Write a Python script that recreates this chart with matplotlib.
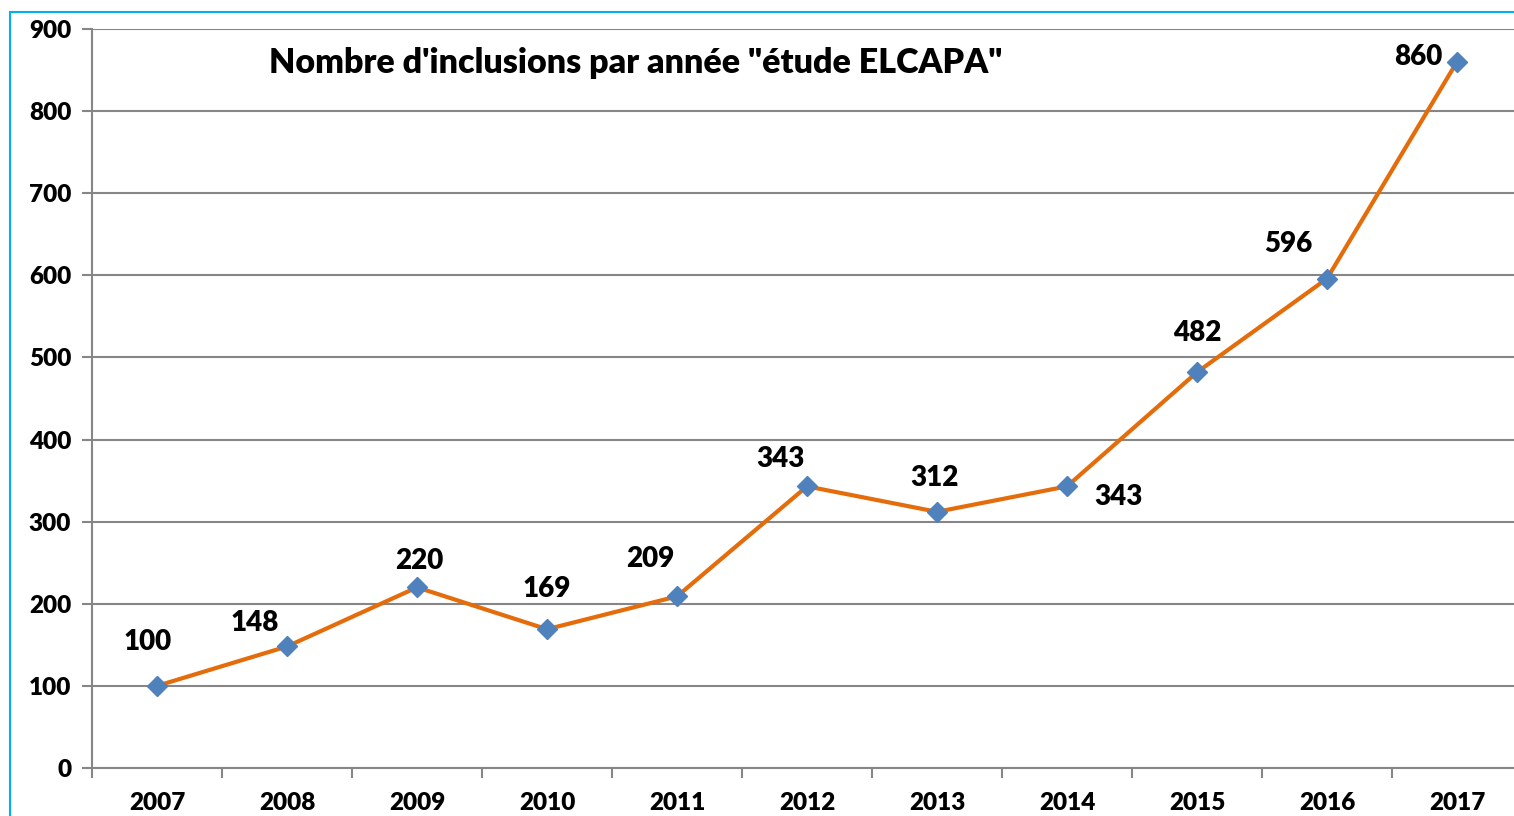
import matplotlib.pyplot as plt
from matplotlib.patches import Rectangle

# Données
annees = ['2007', '2008', '2009', '2010', '2011', '2012', '2013', '2014', '2015', '2016', '2017']
inclusions = [100, 148, 220, 169, 209, 343, 312, 343, 482, 596, 860]
# décalage des étiquettes (pixels)
decalages = [(-9, 44), (-32, 23), (2, 26), (0, 40), (-27, 37), (-27, 27),
             (-3, 34), (51, -11), (0, 39), (-39, 35), (-39, 5)]
graduations_y = [0, 100, 200, 300, 400, 500, 600, 700, 800, 900]

plt.rcParams['font.family'] = ['Lato', 'DejaVu Sans']
poids = 'heavy'

fig = plt.figure(figsize=(15.14, 8.16), dpi=100)
ax = fig.add_axes([92 / 1514, 48 / 816, (1522 - 92) / 1514, (768 - 29) / 816])

gris = '#868686'
x = list(range(len(annees)))
ax.plot(x, inclusions, color='#E46C0A', linewidth=3, marker='D', markersize=10,
        markerfacecolor='#4F81BD', markeredgecolor='#4F81BD', zorder=3, clip_on=False)

for i, v in enumerate(inclusions):
    ax.annotate(str(v), (i, v), xytext=decalages[i], textcoords='offset pixels',
                ha='center', va='center', fontsize=20, fontweight=poids)

ax.set_xlim(-0.5, len(annees) - 0.5)
ax.set_ylim(0, 900)
ax.set_yticks(graduations_y)
ax.set_yticklabels([str(g) for g in graduations_y], fontsize=17.5, fontweight=poids)
ax.yaxis.grid(True, color=gris, linewidth=1.5)
ax.set_axisbelow(True)

ax.set_xticks([i + 0.5 for i in range(-1, len(annees))], minor=False)
ax.set_xticklabels([])
ax.set_xticks(x, minor=True)
ax.set_xticklabels(annees, minor=True, fontsize=17.5, fontweight=poids)
ax.tick_params(axis='x', which='major', direction='out', length=7, width=1.5, color=gris)
ax.tick_params(axis='x', which='minor', length=0, pad=17)
ax.tick_params(axis='y', direction='out', length=7, width=1.5, color=gris, pad=8)

for s in ['top', 'right']:
    ax.spines[s].set_visible(False)
for s in ['left', 'bottom']:
    ax.spines[s].set_color(gris)
    ax.spines[s].set_linewidth(1.5)

fig.text(636 / 1514, 1 - 63 / 816, 'Nombre d\'inclusions par année "étude ELCAPA"',
         ha='center', va='center', fontsize=24.5, fontweight=poids)

fig.patches.append(Rectangle((10 / 1514, -0.1), 1.2, 1 - 12 / 816 + 0.1, transform=fig.transFigure,
                             fill=False, edgecolor='#00B0F0', linewidth=1.5))

fig.savefig('out.png', dpi=100)
